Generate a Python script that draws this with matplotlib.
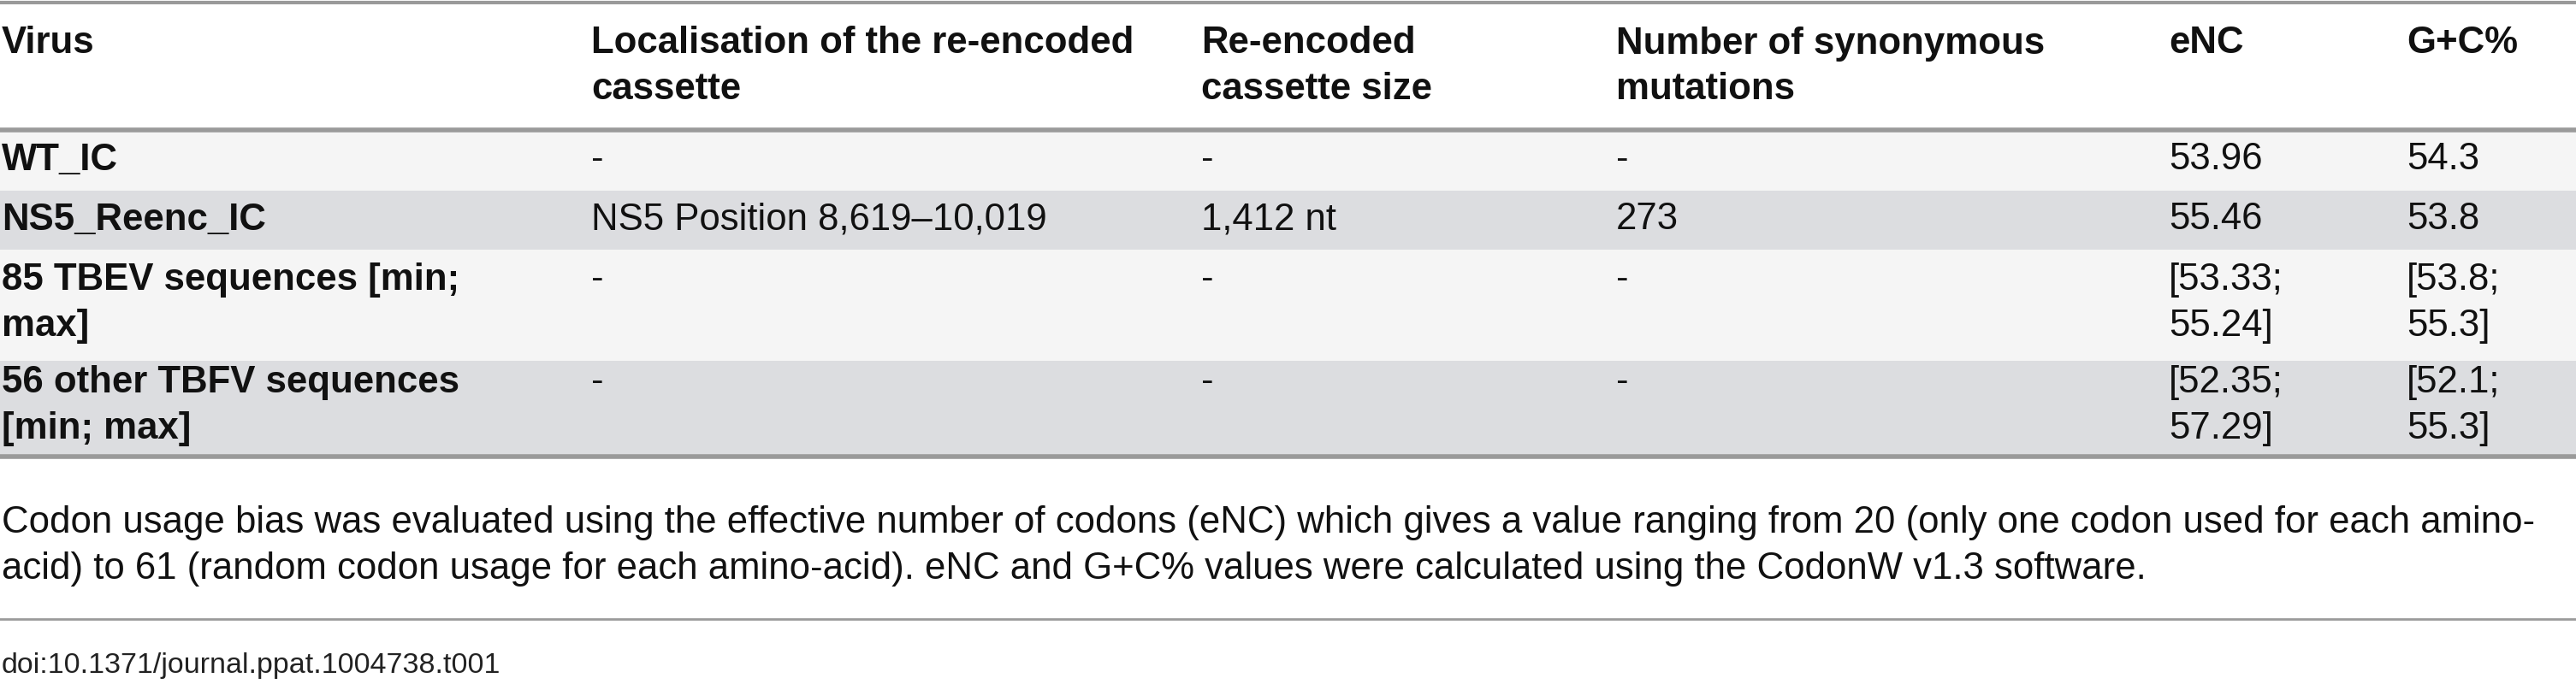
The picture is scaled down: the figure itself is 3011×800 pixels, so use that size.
import matplotlib
matplotlib.use("Agg")
import matplotlib.pyplot as plt
from matplotlib import font_manager as fm

names = {f.name for f in fm.fontManager.ttflist}
fam = ["Liberation Sans Narrow"] if "Liberation Sans Narrow" in names else ["Liberation Sans"]
plt.rcParams['font.family'] = fam + ["DejaVu Sans"]

headers = [["Virus"], ["Localisation of the re-encoded", "cassette"], ["Re-encoded", "cassette size"],
           ["Number of synonymous", "mutations"], ["eNC"], ["G+C%"]]
virus = [["WT_IC"], ["NS5_Reenc_IC"], ["85 TBEV sequences [min;", "max]"], ["56 other TBFV sequences", "[min; max]"]]
localisation = ["-", "NS5 Position 8,619–10,019", "-", "-"]
cassette_size = ["-", "1,412 nt", "-", "-"]
mutations = ["-", "273", "-", "-"]
enc = [["53.96"], ["55.46"], ["[53.33;", "55.24]"], ["[52.35;", "57.29]"]]
gc = [["54.3"], ["53.8"], ["[53.8;", "55.3]"], ["[52.1;", "55.3]"]]
caption = ["Codon usage bias was evaluated using the effective number of codons (eNC) which gives a value ranging from 20 (only one codon used for each amino-",
           "acid) to 61 (random codon usage for each amino-acid). eNC and G+C% values were calculated using the CodonW v1.3 software."]
doi = "doi:10.1371/journal.ppat.1004738.t001"

W, H = 3011, 800
fig = plt.figure(figsize=(W/100, H/100), dpi=100)
ax = fig.add_axes([0, 0, 1, 1])
ax.set_xlim(0, W); ax.set_ylim(H, 0); ax.axis("off")

colx = [2, 691, 1404, 1889, 2535, 2813]
fs = 31.5
lh = 54
line_c = "#9a9a9a"

bands = [(152, 223, "#f5f5f5"), (223, 292, "#dcdde0"), (292, 422, "#f5f5f5"), (422, 534, "#dcdde0")]
for t, b, c in bands:
    ax.add_patch(plt.Rectangle((0, t), W, b - t, color=c, lw=0))

for y, lw in [(3, 3), (152, 4), (534, 4), (724, 2)]:
    ax.plot([0, W], [y, y], color=line_c, lw=lw)

def cell(x, y, lines, bold=False, size=fs):
    for i, s in enumerate(lines):
        ax.text(x, y + i * lh, s, fontsize=size, fontweight="bold" if bold else "normal",
                va="center", ha="left", color="#111111")

for x, h in zip(colx, headers):
    cell(x, 51, h, bold=True)

row_y = [187, 257, 327, 447]
for i, y in enumerate(row_y):
    cell(colx[0], y, virus[i], bold=True)
    cell(colx[1], y, [localisation[i]])
    cell(colx[2], y, [cassette_size[i]])
    cell(colx[3], y, [mutations[i]])
    cell(colx[4], y, enc[i])
    cell(colx[5], y, gc[i])

cell(2, 611, caption)
ax.text(2, 778, doi, fontsize=24.5, va="center", ha="left", color="#222222")

fig.savefig("out.png", dpi=100)
